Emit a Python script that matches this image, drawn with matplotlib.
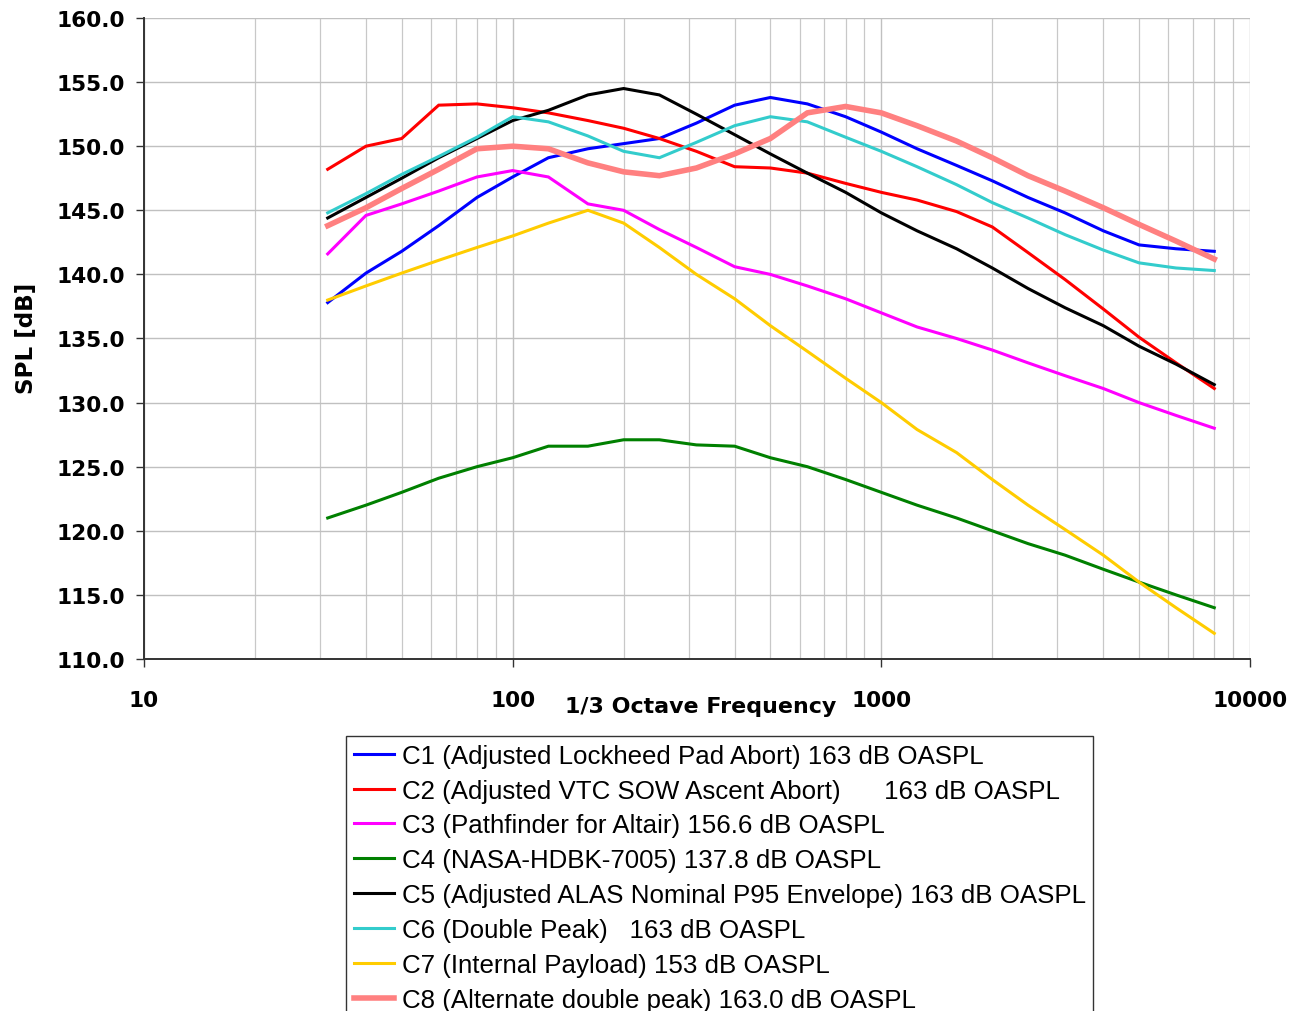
import matplotlib
matplotlib.use("Agg")
import matplotlib.pyplot as plt
from matplotlib.ticker import LogLocator, NullFormatter, FixedLocator

freqs = [31.5, 40, 50, 63, 80, 100, 125, 160, 200, 250, 315, 400, 500, 630,
         800, 1000, 1250, 1600, 2000, 2500, 3150, 4000, 5000, 6300, 8000]

c1 = [137.8, 140.1, 141.8, 143.8, 146.0, 147.6, 149.1, 149.8, 150.2, 150.6, 151.8, 153.2,
      153.8, 153.3, 152.3, 151.1, 149.8, 148.5, 147.3, 146.0, 144.8, 143.4, 142.3, 142.0, 141.8]
c2 = [148.2, 150.0, 150.6, 153.2, 153.3, 153.0, 152.6, 152.0, 151.4, 150.6, 149.6, 148.4,
      148.3, 147.9, 147.1, 146.4, 145.8, 144.9, 143.7, 141.7, 139.6, 137.3, 135.1, 133.1, 131.1]
c3 = [141.6, 144.6, 145.5, 146.5, 147.6, 148.1, 147.6, 145.5, 145.0, 143.5, 142.1, 140.6,
      140.0, 139.1, 138.1, 137.0, 135.9, 135.0, 134.1, 133.1, 132.1, 131.1, 130.0, 129.0, 128.0]
c4 = [121.0, 122.0, 123.0, 124.1, 125.0, 125.7, 126.6, 126.6, 127.1, 127.1, 126.7, 126.6,
      125.7, 125.0, 124.0, 123.0, 122.0, 121.0, 120.0, 119.0, 118.1, 117.0, 116.0, 115.0, 114.0]
c5 = [144.4, 146.0, 147.5, 149.1, 150.6, 152.0, 152.8, 154.0, 154.5, 154.0, 152.5, 150.9,
      149.4, 147.9, 146.4, 144.8, 143.4, 142.0, 140.5, 138.9, 137.4, 136.0, 134.4, 133.0, 131.4]
c6 = [144.8, 146.3, 147.8, 149.2, 150.7, 152.3, 151.9, 150.8, 149.6, 149.1, 150.3, 151.6,
      152.3, 151.9, 150.7, 149.6, 148.4, 147.0, 145.6, 144.4, 143.1, 141.9, 140.9, 140.5, 140.3]
c7 = [138.0, 139.1, 140.1, 141.1, 142.1, 143.0, 144.0, 145.0, 144.0, 142.1, 140.0, 138.1,
      136.0, 134.0, 131.9, 130.0, 127.9, 126.1, 124.0, 122.0, 120.1, 118.1, 116.0, 114.0, 112.0]
c8 = [143.8, 145.2, 146.7, 148.2, 149.8, 150.0, 149.8, 148.7, 148.0, 147.7, 148.3, 149.4,
      150.6, 152.6, 153.1, 152.6, 151.6, 150.4, 149.1, 147.7, 146.5, 145.2, 143.9, 142.6, 141.2]

labels = [
    "C1 (Adjusted Lockheed Pad Abort) 163 dB OASPL",
    "C2 (Adjusted VTC SOW Ascent Abort)      163 dB OASPL",
    "C3 (Pathfinder for Altair) 156.6 dB OASPL",
    "C4 (NASA-HDBK-7005) 137.8 dB OASPL",
    "C5 (Adjusted ALAS Nominal P95 Envelope) 163 dB OASPL",
    "C6 (Double Peak)   163 dB OASPL",
    "C7 (Internal Payload) 153 dB OASPL",
    "C8 (Alternate double peak) 163.0 dB OASPL",
]
series = [c1, c2, c3, c4, c5, c6, c7, c8]
colors = ["#0000FF", "#FF0000", "#FF00FF", "#008000", "#000000", "#33CCCC", "#FFCC00", "#FF8080"]
widths = [2.2, 2.2, 2.2, 2.2, 2.2, 2.2, 2.2, 4.0]

y_ticks = [110, 115, 120, 125, 130, 135, 140, 145, 150, 155, 160]
x_ticks = [10, 100, 1000, 10000]
x_tick_labels = ["10", "100", "1000", "10000"]

W, H = 1293, 1012
fig = plt.figure(figsize=(W / 100, H / 100), dpi=100)
ax = fig.add_axes([144 / W, 1 - 660 / H, (1250 - 144) / W, (660 - 19) / H])

for vals, lab, col, lw in zip(series, labels, colors, widths):
    ax.plot(freqs, vals, color=col, lw=lw, label=lab, solid_joinstyle="miter")

ax.set_xscale("log")
ax.set_xlim(10, 10000)
ax.set_ylim(110, 160)
ax.xaxis.set_major_locator(FixedLocator(x_ticks))
ax.set_xticklabels(x_tick_labels)
ax.xaxis.set_minor_locator(LogLocator(base=10, subs=range(2, 10)))
ax.xaxis.set_minor_formatter(NullFormatter())
ax.set_yticks(y_ticks)
ax.set_yticklabels([f"{v:.1f}" for v in y_ticks])

ax.grid(True, which="major", color="#C0C0C0", lw=1.0)
ax.grid(True, which="minor", axis="x", color="#C8C8C8", lw=0.9)
ax.set_axisbelow(True)

for s in ["top", "right"]:
    ax.spines[s].set_visible(False)
for s in ["left", "bottom"]:
    ax.spines[s].set_color("#333333")
    ax.spines[s].set_linewidth(1.4)

ax.tick_params(axis="y", which="major", length=6, width=1, color="#333333", pad=8)
ax.tick_params(axis="x", which="major", length=6, width=1, color="#333333", pad=16)
ax.tick_params(axis="x", which="minor", length=0)
for t in ax.get_xticklabels() + ax.get_yticklabels():
    t.set_fontfamily("DejaVu Sans")
    t.set_fontweight("bold")
    t.set_fontsize(15.6)

fig.text(701 / W, 1 - 707 / H, "1/3 Octave Frequency", ha="center", va="center",
         fontfamily="DejaVu Sans", fontweight="bold", fontsize=15.9)
fig.text(27 / W, 1 - 338 / H, "SPL [dB]", ha="center", va="center", rotation=90,
         fontfamily="DejaVu Sans", fontweight="bold", fontsize=16.6)

leg = fig.legend(loc="upper left", bbox_to_anchor=(346 / W, 1 - 737 / H),
                 bbox_transform=fig.transFigure, frameon=True, fancybox=False,
                 prop=dict(family="Liberation Sans", size=18.6), handlelength=1.55,
                 handletextpad=0.3, labelspacing=0.42, borderpad=0.3, borderaxespad=0)
leg.get_frame().set_edgecolor("#000000")
leg.get_frame().set_linewidth(1.0)

fig.savefig("out.png", dpi=100)
